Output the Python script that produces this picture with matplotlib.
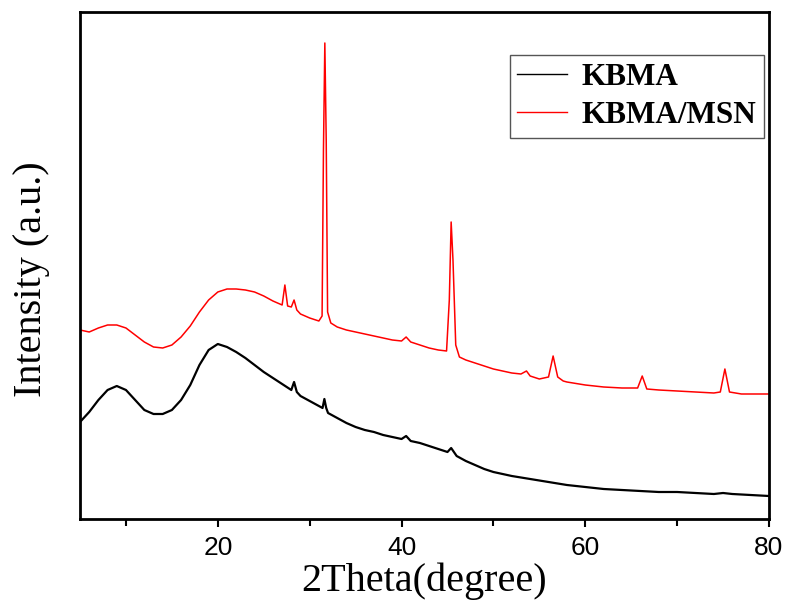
import numpy as np
import matplotlib
matplotlib.use('Agg')
import matplotlib.pyplot as plt

# values, intensity in arbitrary units (height above the axis)
kbma_x = [5, 6, 7, 8, 9, 10, 11, 12, 13, 14, 15, 16, 17, 18, 19, 20, 21, 22, 23, 24,
          25, 26, 27, 28, 28.3, 28.6, 29, 30, 31, 31.4, 31.6, 31.8, 32, 33, 34, 35, 36,
          37, 38, 39, 40, 40.5, 41, 42, 43, 44, 45, 45.4, 46, 47, 48, 49, 50, 52, 54,
          56, 58, 60, 62, 64, 66, 68, 70, 72, 74, 75, 76, 78, 80]
kbma_px = [422, 412, 400, 390, 386, 390, 400, 410, 414, 414, 410, 400, 385, 365, 350, 344,
           347, 352, 358, 365, 372, 378, 384, 390, 382, 392, 396, 401, 406, 408, 399, 408,
           413, 418, 423, 427, 430, 432, 435, 437, 439, 436, 441, 443, 446, 449, 452, 448,
           456, 461, 465, 469, 472, 476, 479, 482, 485, 487, 489, 490, 491, 492, 492, 493,
           494, 493, 494, 495, 496]

msn_x = [5, 6, 7, 8, 9, 10, 11, 12, 13, 14, 15, 16, 17, 18, 19, 20, 21, 22, 23, 24, 25,
         26, 27, 27.3, 27.6, 28, 28.3, 28.6, 29, 30, 31, 31.35, 31.5, 31.65, 31.8, 31.95,
         32.3, 33, 34, 35, 36, 37, 38, 39, 40, 40.5, 41, 42, 43, 44, 44.9, 45.2, 45.4,
         45.6, 45.9, 46.3, 47, 48, 49, 50, 51, 52, 53, 53.6, 54, 55, 56, 56.5, 57, 57.6,
         58, 60, 62, 64, 65.7, 66.2, 66.7, 68, 70, 72, 74, 74.7, 75.2, 75.7, 77, 80]
msn_px = [330, 332, 328, 325, 325, 328, 335, 342, 347, 348, 345, 337, 326, 312, 300, 292,
          289, 289, 290, 292, 296, 301, 305, 285, 306, 307, 300, 310, 314, 318, 321, 316,
          150, 43, 140, 312, 323, 327, 330, 332, 334, 336, 338, 340, 341, 337, 342, 345,
          348, 350, 351, 300, 222, 260, 345, 357, 360, 363, 366, 369, 371, 373, 374, 371,
          376, 379, 377, 356, 377, 381, 382, 385, 387, 388, 388, 376, 389, 390, 391, 392,
          393, 392, 369, 392, 394, 394]

kbma_y = 519 - np.array(kbma_px)
msn_y = 519 - np.array(msn_px)

fig = plt.figure(figsize=(7.9, 6.15), dpi=100)
ax = fig.add_axes([0.1013, 0.1561, 0.8721, 0.8244])

ax.plot(kbma_x, kbma_y, color='black', lw=1.6, label='KBMA')
ax.plot(msn_x, msn_y, color='red', lw=1.1, label='KBMA/MSN')

ax.set_xlim(5, 80)
ax.set_ylim(0, 507)
ax.set_xticks([20, 40, 60, 80])
ax.set_xticks([10, 30, 50, 70], minor=True)
ax.set_yticks([])
ax.tick_params(axis='x', which='major', direction='out', length=6, width=1.5,
               labelsize=19, pad=6)
ax.tick_params(axis='x', which='minor', direction='out', length=5, width=1.5)
for lab in ax.get_xticklabels():
    lab.set_family('Liberation Sans')
for s in ax.spines.values():
    s.set_linewidth(2)

ax.set_xlabel('2Theta(degree)', family='Liberation Serif', fontsize=29, labelpad=2)
ax.set_ylabel('Intensity (a.u.)', family='Liberation Serif', fontsize=29)
ax.yaxis.set_label_coords(-0.044, 0.473)

leg = ax.legend(loc='upper right', bbox_to_anchor=(0.9927, 0.915), borderaxespad=0,
                fancybox=False, edgecolor='#555555', framealpha=1, handlelength=1.6,
                borderpad=0.25, labelspacing=0.3, handletextpad=0.45,
                prop={'family': 'Liberation Serif', 'weight': 'bold', 'size': 22.5})
leg.get_frame().set_linewidth(1)
for h in leg.get_lines():
    h.set_linewidth(1)

fig.savefig('out.png', dpi=100)
